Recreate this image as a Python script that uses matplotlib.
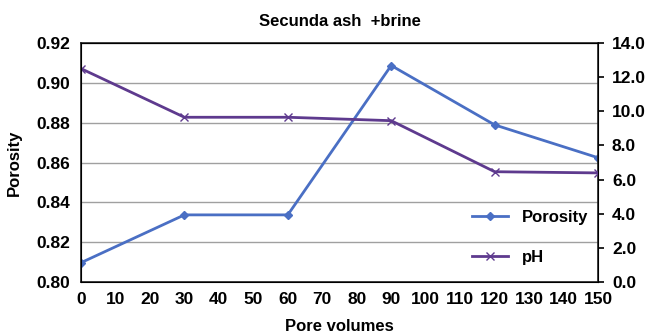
import numpy as np
import matplotlib.pyplot as plt

# Data
pore_volumes = [0, 30, 60, 90, 120, 150]
porosity = [0.8097, 0.8337, 0.8337, 0.9087, 0.8789, 0.8624]
ph = [12.5, 9.65, 9.65, 9.45, 6.46, 6.39]

x_ticks = np.arange(0, 151, 10)
left_ticks = [0.80, 0.82, 0.84, 0.86, 0.88, 0.90, 0.92]
right_ticks = np.arange(0, 14.1, 2)

plt.rcParams['font.family'] = ['Liberation Sans', 'DejaVu Sans']
plt.rcParams['font.weight'] = 'bold'

fig = plt.figure(figsize=(6.56, 3.36), dpi=100)
ax = fig.add_axes([81 / 656, 1 - 282 / 336, 517 / 656, 239 / 336])

ax.plot(pore_volumes, porosity, color='#4a6fc4', marker='D', markersize=4,
        linewidth=2, label='Porosity')
ax.set_xlim(0, 150)
ax.set_ylim(0.80, 0.92)
ax.set_xticks(x_ticks)
ax.set_yticks(left_ticks)
ax.set_yticklabels(['%.2f' % t for t in left_ticks])
ax.yaxis.grid(True, color='#a0a0a0', linewidth=1)
ax.set_axisbelow(True)
ax.tick_params(labelsize=12.5, length=0, pad=8)
ax.tick_params(axis='x', pad=7)
ax.set_ylabel('Porosity', fontsize=12, fontweight='bold', labelpad=10)
ax.set_xlabel('Pore volumes', fontsize=12, fontweight='bold', labelpad=9)
ax.set_title('Secunda ash  +brine', fontsize=12, fontweight='bold', pad=12)
for s in ax.spines.values():
    s.set_color('#202020')
    s.set_linewidth(1.2)

ax2 = ax.twinx()
ax2.plot(pore_volumes, ph, color='#5e3a8e', marker='x', markersize=6,
         linewidth=2, label='pH')
ax2.set_ylim(0, 14)
ax2.set_yticks(right_ticks)
ax2.set_yticklabels(['%.1f' % t for t in right_ticks])
ax2.tick_params(labelsize=12.5, length=4, direction='out', width=1.2, pad=6)

h1, l1 = ax.get_legend_handles_labels()
h2, l2 = ax2.get_legend_handles_labels()
ax2.legend(h1 + h2, l1 + l2, loc='lower right', frameon=False,
           fontsize=12, labelspacing=1.5, handlelength=2.2,
           bbox_to_anchor=(1.01, 0.01))

fig.savefig('out.png', dpi=100)
